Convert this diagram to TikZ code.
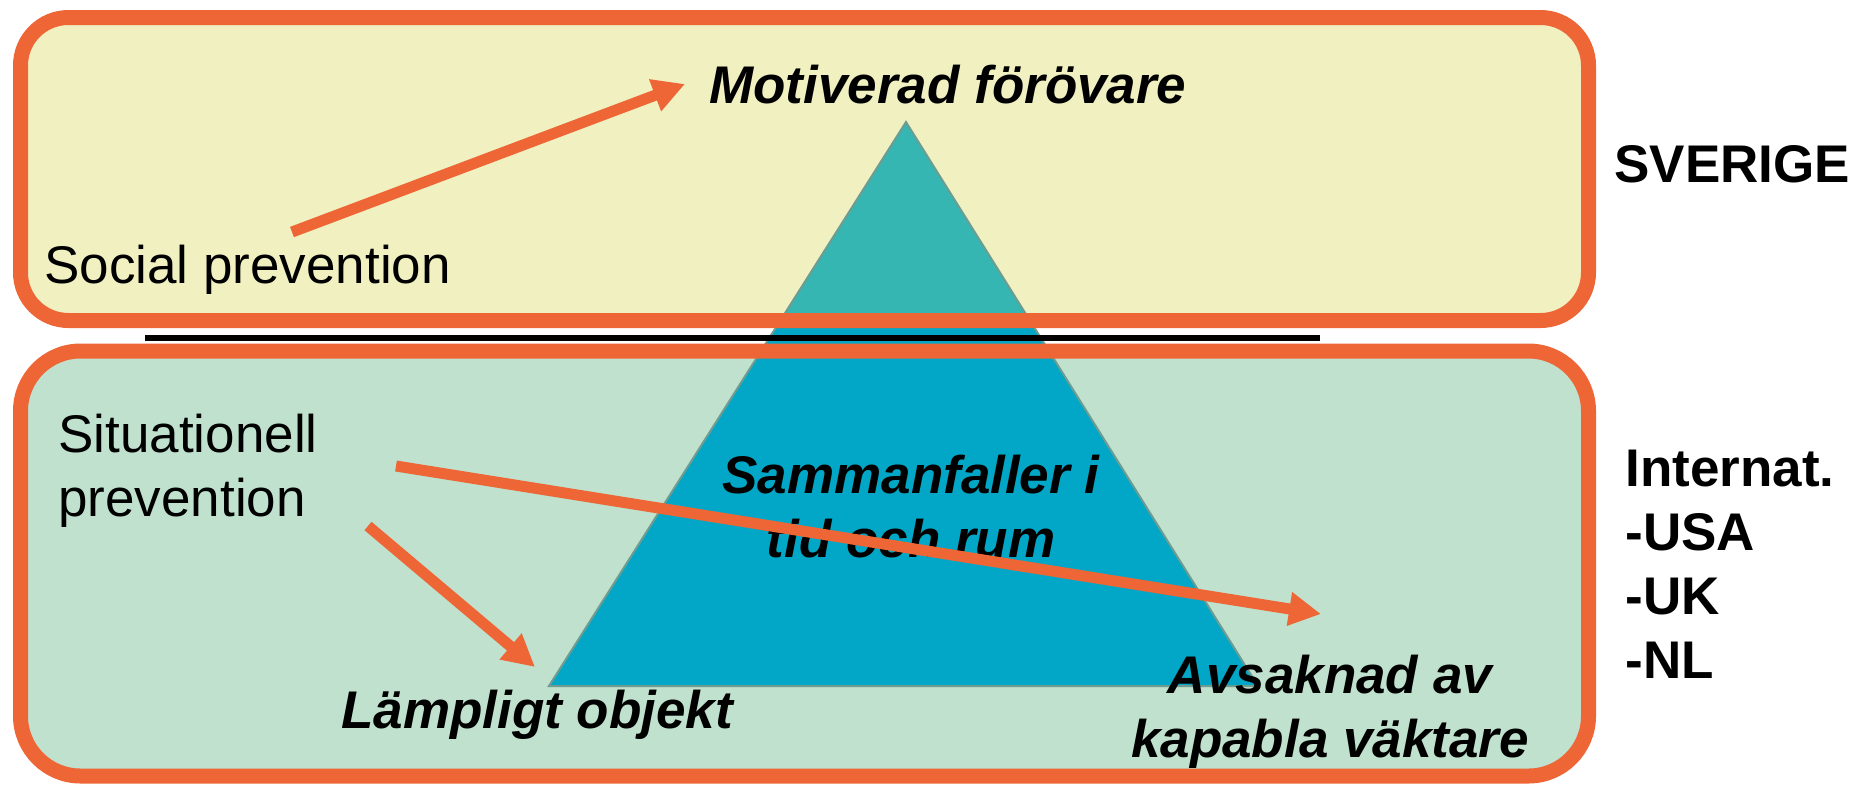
\documentclass[tikz,border=0pt]{standalone}
\usepackage{fontspec}
\setmainfont{Liberation Sans}
\usepackage{xcolor}
\usetikzlibrary{arrows.meta}
\definecolor{rimorange}{HTML}{EE6636}
\definecolor{topfill}{HTML}{F1F0C1}
\definecolor{lowfill}{HTML}{BFE1CD}
\definecolor{pyrteal}{HTML}{35B6B2}
\definecolor{pyrblue}{HTML}{02A7C7}
\definecolor{pyredge}{HTML}{6F9C90}
\newcommand\lblsize{\fontsize{26.5}{32}\selectfont}

\begin{document}
\begin{tikzpicture}[x=0.5pt, y=-0.5pt,
  rim/.style={draw=rimorange, line width=7.5pt},
  plain/.style={inner sep=0pt, font=\lblsize},
  strong/.style={inner sep=0pt, font=\lblsize\bfseries\itshape},
  heavy/.style={inner sep=0pt, font=\lblsize\bfseries},
  push/.style={draw=rimorange, line width=5.5pt, -{Triangle[length=16pt, width=16pt]}}]
\useasboundingbox (0,0) rectangle (1863,784);

\fill[topfill, rounded corners=24pt] (20.5,17.5) rectangle (1588.5,320.5);
\fill[lowfill, rounded corners=30pt] (20.5,351) rectangle (1588.5,776);

\coordinate (apex) at (906,122);
\coordinate (baseL) at (549,686);
\coordinate (baseR) at (1258,686);
\fill[pyrblue] (apex) -- (baseL) -- (baseR) -- cycle;
\begin{scope}
\clip (0,0) rectangle (1863,320);
\fill[pyrteal] (apex) -- (baseL) -- (baseR) -- cycle;
\end{scope}
\draw[pyredge, line width=1pt] (apex) -- (baseL) -- (baseR) -- cycle;

\draw[rim, rounded corners=24pt] (20.5,17.5) rectangle (1588.5,320.5);
\draw[rim, rounded corners=30pt] (20.5,351) rectangle (1588.5,776);
\draw[line width=3pt] (145,338) -- (1320,338);

\node[strong, anchor=base west] (offender) at (709,103) {Motiverad förövare};
\node[plain, anchor=base west] (social) at (44,283) {Social prevention};
\node[plain, anchor=north west, align=left] (situation) at (58,414) {Situationell\\prevention};
\node[strong, anchor=base west] (target) at (341,728) {Lämpligt objekt};
\node[strong, anchor=north, align=center] (meet) at (911,455) {Sammanfaller i\\tid och rum};
\node[strong, anchor=north, align=center] (guardian) at (1330,655) {Avsaknad av\\kapabla väktare};
\node[heavy, anchor=base west] (sweden) at (1614,182) {SVERIGE};
\node[heavy, anchor=north west, align=left] (abroad) at (1625,450) {Internat.\\-USA\\-UK\\-NL};

\coordinate (socialtail) at (292,232);
\coordinate (offendertip) at (685,84);
\coordinate (targettail) at (368,526);
\coordinate (targettip) at (535,667);
\coordinate (guardiantail) at (396,466);
\coordinate (guardiantip) at (1321,614);
\draw[push] (socialtail) -- (offendertip);
\draw[push] (targettail) -- (targettip);
\draw[push] (guardiantail) -- (guardiantip);
\end{tikzpicture}
\end{document}
